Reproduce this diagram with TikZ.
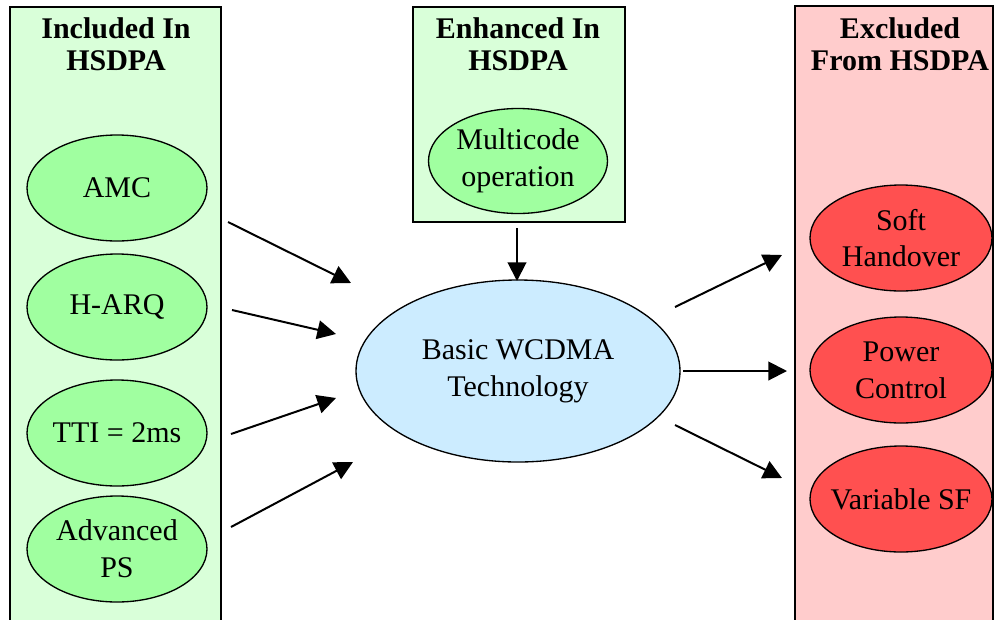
\documentclass[tikz,border=0pt]{standalone}
\usepackage{fontspec}
\setmainfont{Liberation Serif}
\usetikzlibrary{shapes.geometric,arrows.meta}
\definecolor{panelgreen}{RGB}{217,255,217}
\definecolor{panelred}{RGB}{255,204,204}
\definecolor{ellgreen}{RGB}{160,255,160}
\definecolor{ellblue}{RGB}{204,236,255}
\definecolor{ellred}{RGB}{255,80,80}
\begin{document}
\begin{tikzpicture}[x=0.75pt,y=-0.75pt,
  every node/.style={font=\fontsize{22.5pt}{27.5pt}\selectfont, align=center, inner sep=0pt},
  title/.style={font=\fontsize{22.5pt}{24pt}\selectfont\bfseries},
  item/.style={ellipse, draw, line width=1pt, minimum width=180*0.75pt, minimum height=106*0.75pt},
  greenitem/.style={item, fill=ellgreen},
  reditem/.style={item, fill=ellred, minimum width=182*0.75pt},
  panelline/.style={draw, line width=0.8pt},
  arr/.style={line width=1.5pt, -{Triangle[length=14pt,width=14pt]}}
]
\useasboundingbox (0,0) rectangle (996,619);
% panels
\fill[panelgreen] (10,7) rectangle (221,625);
\draw[panelline] (10,625) -- (10,7) -- (221,7) -- (221,625);
\fill[panelgreen] (413,7) rectangle (625,222);
\draw[panelline] (413,7) rectangle (625,222);
\fill[panelred] (795,6) rectangle (993,625);
\draw[panelline] (795,625) -- (795,6) -- (993,6) -- (993,625);
% titles
\node[title] (t1) at (116,44) {Included In\\HSDPA};
\node[title] (t2) at (518,44) {Enhanced In\\HSDPA};
\node[title] (t3) at (900,44) {Excluded\\From HSDPA};
% left items
\node[greenitem] (amc) at (117,188) {AMC};
\node[greenitem] (harq) at (117,307) {H-ARQ};
\node[greenitem, inner xsep=-4pt] (tti) at (117,433) {TTI = 2ms};
\node[greenitem] (aps) at (117,549) {Advanced\\PS};
% middle
\node[greenitem, minimum width=179*0.75pt, minimum height=105*0.75pt] (mc) at (518,161) {Multicode\\operation};
\node[ellipse, draw, line width=1pt, fill=ellblue, minimum width=324*0.75pt, minimum height=182*0.75pt] (core) at (518,371) {Basic WCDMA\\Technology};
% right
\node[reditem] (sh) at (901,238) {Soft\\Handover};
\node[reditem] (pc) at (901,370) {Power\\Control};
\node[reditem, inner xsep=-6pt] (vsf) at (901,499) {Variable SF};
% arrow end points
\coordinate (a1s) at (228,222); \coordinate (a1e) at (351,283);
\coordinate (a2s) at (232,310); \coordinate (a2e) at (336,334);
\coordinate (a3s) at (231,434); \coordinate (a3e) at (336,398);
\coordinate (a4s) at (231,527); \coordinate (a4e) at (353,462);
\coordinate (m1s) at (517,228); \coordinate (m1e) at (517,281);
\coordinate (r1s) at (675,307); \coordinate (r1e) at (782,255);
\coordinate (r2s) at (683,371); \coordinate (r2e) at (787,371);
\coordinate (r3s) at (675,425); \coordinate (r3e) at (782,478);
\draw[arr] (a1s) -- (a1e);
\draw[arr] (a2s) -- (a2e);
\draw[arr] (a3s) -- (a3e);
\draw[arr] (a4s) -- (a4e);
\draw[arr] (m1s) -- (m1e);
\draw[arr] (r1s) -- (r1e);
\draw[arr] (r2s) -- (r2e);
\draw[arr] (r3s) -- (r3e);
\end{tikzpicture}
\end{document}
